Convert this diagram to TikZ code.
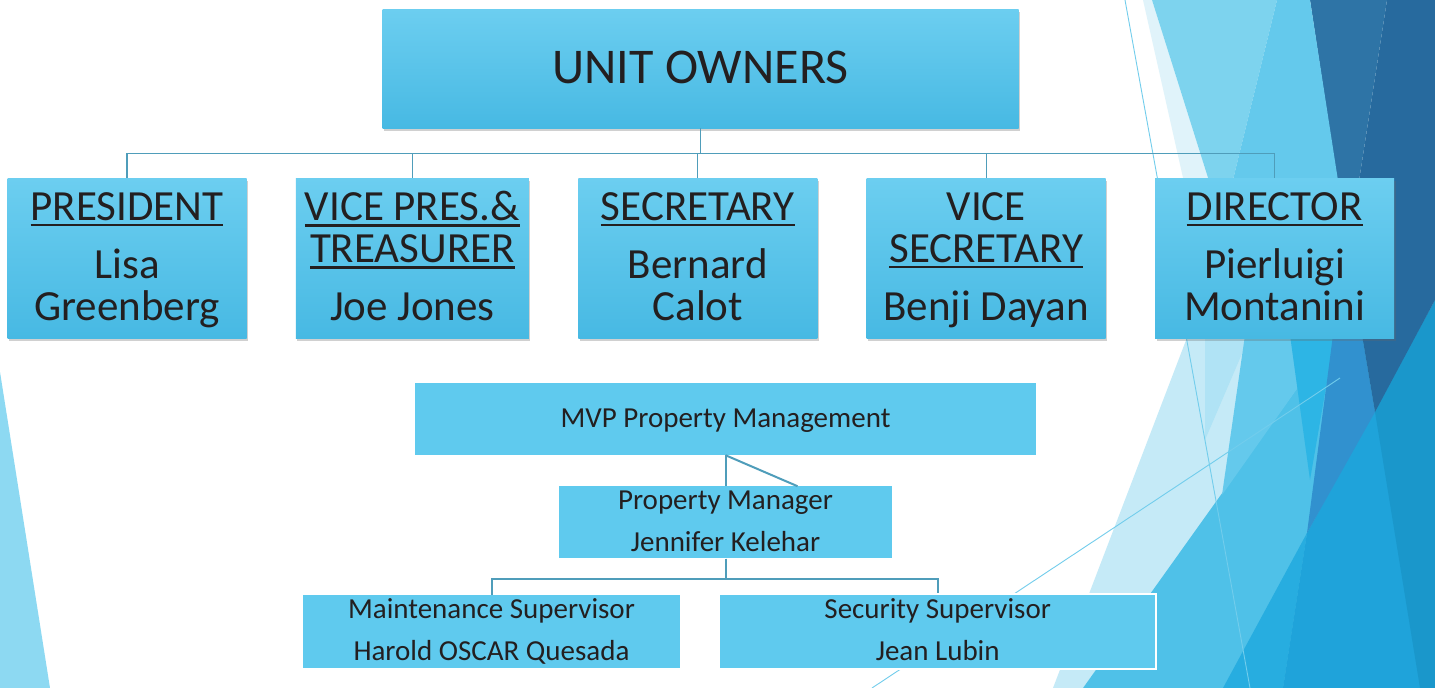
\documentclass[tikz,border=0pt]{standalone}
\usepackage{fontspec}
\setmainfont{Carlito}
\usepackage{xcolor}
\definecolor{inkDark}{HTML}{231F20}
\definecolor{boxTop}{HTML}{6CCEF0}
\definecolor{boxBottom}{HTML}{47B9E3}
\definecolor{staffFill}{HTML}{5FCAEE}
\definecolor{linkTeal}{HTML}{4F9DBA}
\definecolor{facetEdge}{HTML}{8DD9F2}
\definecolor{facetWhite}{HTML}{E0F3FA}
\definecolor{facetIce}{HTML}{C5EAF7}
\definecolor{facetPale}{HTML}{B0E3F5}
\definecolor{facetSky}{HTML}{7DD3EE}
\definecolor{facetAqua}{HTML}{64C9EC}
\definecolor{facetMid}{HTML}{4FC1E8}
\definecolor{facetCyan}{HTML}{2DB5E5}
\definecolor{facetBright}{HTML}{27ADE0}
\definecolor{facetDeep}{HTML}{1FA3DA}
\definecolor{facetOcean}{HTML}{1A97CB}
\definecolor{facetSteel}{HTML}{3191CF}
\definecolor{facetSlate}{HTML}{2E74A6}
\definecolor{facetNavy}{HTML}{276A9E}
\definecolor{facetThread}{HTML}{72CDEC}
\usepackage{tikz}
\usetikzlibrary{positioning,shadows}
\tikzset{%
  ownerBox/.style={%
    rectangle,
    top color=boxTop,
    bottom color=boxBottom,
    drop shadow={shadow xshift=1.5pt, shadow yshift=-3pt, opacity=.3, fill=black!60},
    text=inkDark,
    align=center,
    inner sep=0pt
  },
  officerBox/.style={%
    ownerBox,
    minimum width=239pt,
    minimum height=160pt,
    font=\fontsize{43}{42}\selectfont,
    text height=129pt,
    text depth=5pt
  },
  staffBox/.style={%
    rectangle,
    fill=staffFill,
    text=inkDark,
    align=center,
    inner sep=0pt,
    minimum height=72pt,
    font=\fontsize{29}{42}\selectfont,
    text height=62pt,
    text depth=4pt
  },
  orgLine/.style={%
    draw=linkTeal,
    line width=1.3pt
  },
  staffLine/.style={%
    draw=linkTeal,
    line width=2pt
  },
  threadLine/.style={%
    draw=facetThread,
    line width=0.9pt
  }
}
\newcommand{\headline}[1]{\vtop{\hbox{#1}\kern4pt\hrule height 2.2pt}}

\begin{document}
\begin{tikzpicture}[x=1pt, y=-1pt]
  \fill[white] (0,0) rectangle (1435,688);
  \useasboundingbox (0,0) rectangle (1435,688);

  % facets
  \fill[facetEdge] (0,372) -- (50,688) -- (0,688) -- cycle;
  \fill[facetIce] (1188,335) -- (1340,335) -- (1083,688) -- (1053,688) -- cycle;
  \fill[facetMid] (1083,688) -- (1335,335) -- (1435,335) -- (1435,688) -- cycle;
  \fill[facetPale] (1205,335) -- (1250,335) -- (1205,440) -- cycle;
  \fill[facetAqua] (1245,335) -- (1335,335) -- (1222,495) -- cycle;
  \fill[facetCyan] (1290,335) -- (1335,335) -- (1310,480) -- cycle;
  \fill[facetBright] (1223,688) -- (1307,533) -- (1283,688) -- cycle;
  \fill[facetDeep] (1283,688) -- (1307,533) -- (1435,300) -- (1435,688) -- cycle;
  \fill[facetOcean] (1375,412) -- (1435,300) -- (1435,688) -- (1420,688) -- cycle;
  \fill[facetSteel] (1333,335) -- (1362,335) -- (1375,412) -- (1307,533) -- cycle;
  \fill[facetNavy] (1348,252) -- (1387,0) -- (1435,0) -- (1435,300) -- (1375,412) -- cycle;
  \fill[facetSlate] (1310,0) -- (1387,0) -- (1348,252) -- cycle;
  \fill[facetWhite] (1143,0) -- (1152,0) -- (1215,200) -- (1188,200) -- cycle;
  \fill[facetSky] (1152,0) -- (1277,0) -- (1228,200) -- (1215,200) -- cycle;
  \fill[facetAqua] (1277,0) -- (1310,0) -- (1341,200) -- (1228,200) -- cycle;
  \draw[threadLine] (1125,0) -- (1250,688);
  \draw[threadLine] (872,688) -- (1340,378);

  \node[ownerBox, minimum width=636pt, minimum height=119pt,
        font=\fontsize{50}{50}\selectfont, text height=33pt, text depth=4pt]
        (owners) at (700.5,68.5) {UNIT OWNERS};

  \node[officerBox] (pres) at (127,258) {\headline{PRESIDENT}\\[16pt]Lisa\\Greenberg};
  \node[officerBox, minimum width=233pt, right=49pt of pres] (vice) {\headline{VICE PRES.\&}\\\headline{TREASURER}\\[16pt]Joe Jones};
  \node[officerBox, right=49pt of vice] (sec) {\headline{SECRETARY}\\[16pt]Bernard\\Calot};
  \node[officerBox, right=49pt of sec] (vsec) {VICE\\\headline{SECRETARY}\\[16pt]Benji Dayan};
  \node[officerBox, right=49pt of vsec] (dir) {\headline{DIRECTOR}\\[16pt]Pierluigi\\Montanini};

  \foreach \n in {pres,vice,sec,vsec,dir}
    \draw[orgLine] (owners.south) -- ++(0,25) -| (\n.north);

  \node[staffBox, minimum width=621pt, text height=20pt] (mvp) at (725.5,419) {MVP Property Management};
  \node[staffBox, minimum width=333pt, below=31pt of mvp] (manager) {Property Manager\\Jennifer Kelehar};
  \node[staffBox, minimum width=377pt, minimum height=73pt, text height=61pt] (upkeep) at (491.5,631.5) {Maintenance Supervisor\\Harold OSCAR Quesada};
  \node[staffBox, draw=white, line width=2pt, minimum width=437pt, minimum height=75pt,
        text height=61pt, right=38pt of upkeep] (security) {Security Supervisor\\Jean Lubin};

  \draw[staffLine] (mvp.south) -- (manager.north);
  \draw[staffLine] (mvp.south) -- ([xshift=72pt]manager.north);
  \foreach \n in {upkeep,security}
    \draw[staffLine] (manager.south) -- ++(0,20) -| (\n.north);
\end{tikzpicture}
\end{document}
